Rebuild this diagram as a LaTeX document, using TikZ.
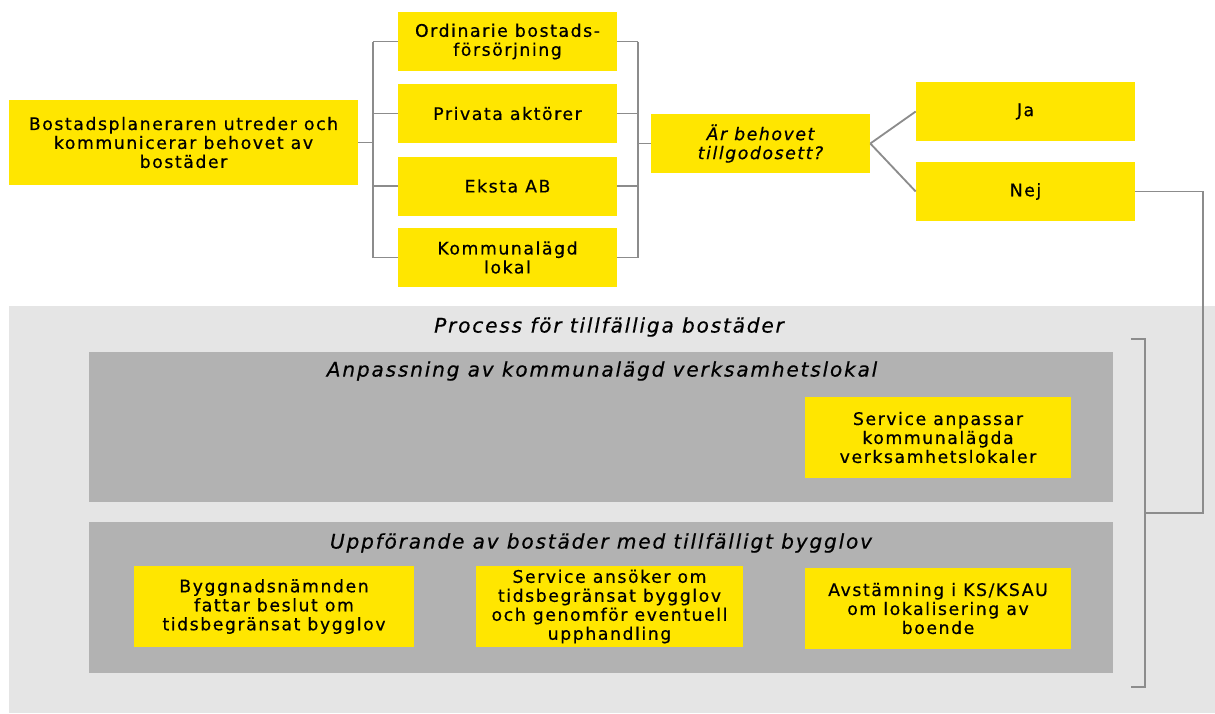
\documentclass[tikz,border=0pt]{standalone}
\usepackage{fontspec}
\setmainfont{DejaVu Sans}
\newfontfamily\eyfont[LetterSpace=9,FakeBold=0.5]{DejaVu Sans}
\definecolor{eyyellow}{HTML}{FFE600}
\definecolor{bggray}{HTML}{E5E5E5}
\definecolor{panelgray}{HTML}{B2B2B2}
\definecolor{linegray}{HTML}{8C8C8C}
\tikzset{
  box/.style={fill=eyyellow,inner sep=0pt,align=center,text=black,
    font=\eyfont\fontsize{12.3}{13.5}\selectfont},
  smallbox/.style={box,minimum width=5.475cm,minimum height=1.475cm},
  stepbox/.style={box,minimum width=6.65cm,minimum height=2.025cm},
  title/.style={font=\eyfont\itshape\fontsize{14.3}{15}\selectfont},
  conn/.style={draw=linegray,line width=1.3pt}
}
\begin{document}
\begin{tikzpicture}[x=0.025cm,y=-0.025cm]
    \useasboundingbox (0,0) rectangle (1215,713);
    % draw the process background and panels
    \fill[bggray] (9,306) rectangle (1215,713);
    \fill[panelgray] (89,352) rectangle (1113,502);
    \fill[panelgray] (89,522) rectangle (1113,673);
    \node[title] (proc) at (609,327) {Process för tillfälliga bostäder};
    \node[title] (anp) at (602,371) {Anpassning av kommunalägd verksamhetslokal};
    \node[title] (upp) at (601,543) {Uppförande av bostäder med tillfälligt bygglov};

    % top row of boxes
    \node[box,minimum width=8.725cm,minimum height=2.125cm] (plan) at (183.5,142.5)
        {Bostadsplaneraren utreder och\\kommunicerar behovet av\\bostäder};
    \foreach \n/\y/\txt in {
        ord/41.5/Ordinarie bostads-\\försörjning,
        priv/113.5/Privata aktörer,
        eksta/186/Eksta AB,
        kommun/257.5/Kommunalägd\\lokal}
            \node[smallbox] (\n) at (507.5,\y) {\txt};
    \node[smallbox,font=\eyfont\itshape\fontsize{12.3}{13.5}\selectfont] (quest) at (760.5,143.5)
        {Är behovet\\tillgodosett?};
    \node[smallbox] (ja) at (1025.5,111.5) {Ja};
    \node[smallbox] (nej) at (1025.5,191.5) {Nej};

    % boxes inside the panels
    \node[stepbox] (serv) at (938,437.5) {Service anpassar\\kommunalägda\\verksamhetslokaler};
    \node[stepbox,minimum width=7cm] (bygg) at (274,606.5)
        {Byggnadsnämnden\\fattar beslut om\\tidsbegränsat bygglov};
    \node[stepbox,minimum width=6.675cm] (ansok) at (609.5,606.5)
        {Service ansöker om\\tidsbegränsat bygglov\\och genomför eventuell\\upphandling};
    \node[stepbox] (avst) at (938,608.5) {Avstämning i KS/KSAU\\om lokalisering av\\boende};

    % brackets round the four alternatives
    \coordinate (lb) at (373,142.5);
    \coordinate (rb) at (638,143.5);
    \draw[conn] (plan.east) -- (lb);
    \draw[conn] (quest.west) -- (rb);
    \draw[conn] (ord.west -| lb) -- (kommun.west -| lb);
    \draw[conn] (ord.east -| rb) -- (kommun.east -| rb);
    \foreach \n in {ord,priv,eksta,kommun} {
            \draw[conn] (\n.west) -- (\n.west -| lb);
            \draw[conn] (\n.east) -- (\n.east -| rb);
    }

    % answers
    \draw[conn] (quest.east) -- (ja.west);
    \draw[conn] (quest.east) -- (nej.west);

    % from Nej to the process bracket
    \coordinate (nejturn) at (1203,191.5);
    \coordinate (brmid) at (1145,513);
    \coordinate (brtop) at (1145,339);
    \coordinate (brbot) at (1145,687);
    \draw[conn] (nej.east) -- (nejturn) |- (brmid);
    \draw[conn] ([xshift=-10]brtop) -- (brtop) -- (brbot) -- ([xshift=-10]brbot);
\end{tikzpicture}
\end{document}
